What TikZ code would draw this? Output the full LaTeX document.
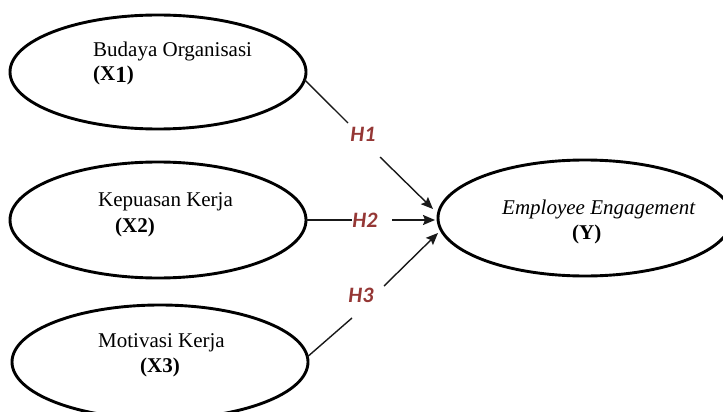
\documentclass[tikz,border=0pt]{standalone}
\usepackage{fontspec}
\setmainfont{Liberation Serif}
\newfontfamily\hfont{Carlito}[BoldFont={Carlito Bold},BoldItalicFont={Carlito Bold Italic}]
\usetikzlibrary{shapes.geometric,arrows.meta}
\definecolor{hred}{RGB}{149,55,53}
\begin{document}
\begin{tikzpicture}[x=1pt,y=-1pt,
  latent/.style={ellipse,draw,line width=2.9pt,inner sep=0pt,outer sep=0pt,minimum width=296pt,minimum height=114pt},
  lbl/.style={anchor=base west,inner sep=0pt,font=\fontsize{21}{24}\selectfont},
  hyp/.style={font=\hfont\bfseries\itshape\fontsize{22}{24}\selectfont,text=hred,inner sep=0pt},
  conn/.style={line width=1.4pt,draw=black!90},
  arr/.style={conn,-{Stealth[length=12pt,width=10pt,inset=2pt]}}]
\useasboundingbox (0,0) rectangle (723,412);
\clip (0,0) rectangle (723,412);
\fill[white] (0,0) rectangle (723,412);
% latent variables
\node[latent] (e1) at (158,72) {};
\node[latent,minimum height=116pt] (e2) at (158,220) {};
\node[latent] (e3) at (160,362) {};
\node[latent,minimum width=294pt,minimum height=116pt] (ey) at (585,218) {};
% texts
\node[lbl] (t1a) at (93,57) {Budaya Organisasi};
\node[lbl] (t1b) at (93,81) {\textbf{(X\raisebox{-2pt}{\fontsize{23}{24}\selectfont 1})}};
\node[lbl] (t2a) at (98,206) {Kepuasan Kerja};
\node[lbl] (t2b) at (115,232) {\textbf{(X2)}};
\node[lbl] (t3a) at (98,347) {Motivasi Kerja};
\node[lbl] (t3b) at (140,372) {\textbf{(X3)}};
\node[lbl] (tya) at (502,214) {\textit{Employee Engagement}};
\node[lbl] (tyb) at (572,239) {\textbf{(Y)}};
% hypothesis labels
\node[hyp] (h1) at (363,134) {H1};
\node[hyp] (h2) at (365,220) {H2};
\node[hyp] (h3) at (361,295) {H3};
% connector gap coordinates
\coordinate (g1a) at (348,123);
\coordinate (g1b) at (380,157);
\coordinate (k1) at (433,209);
\coordinate (g2a) at (352,220);
\coordinate (g2b) at (392,220);
\coordinate (k2) at (435,220);
\coordinate (g3a) at (352,318);
\coordinate (g3b) at (384,286);
\coordinate (k3) at (438,233);
% connectors
\draw[conn] (e1.-3) -- (g1a);
\draw[arr] (g1b) -- (k1);
\draw[conn] (e2.east) -- (g2a);
\draw[arr] (g2b) -- (k2);
\draw[conn] (e3.2) -- (g3a);
\draw[arr] (g3b) -- (k3);
\end{tikzpicture}
\end{document}
